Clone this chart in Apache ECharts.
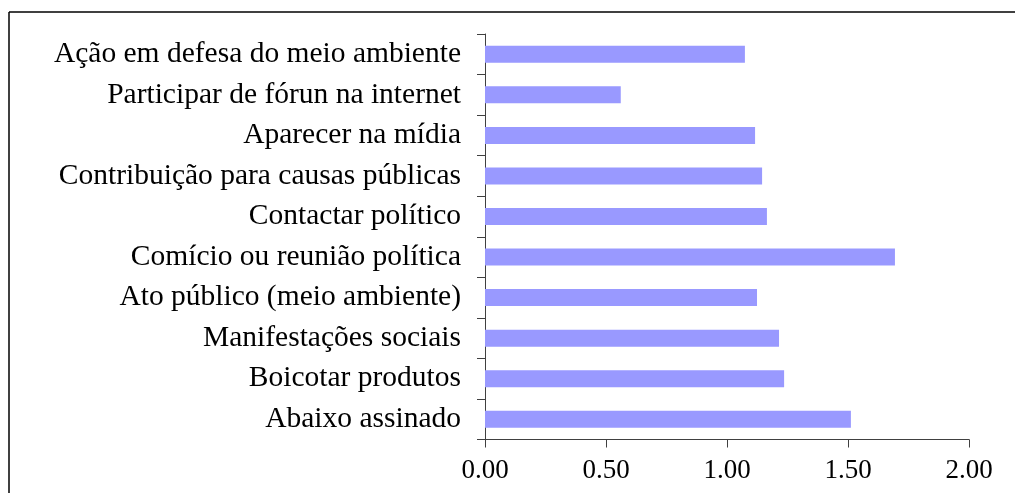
<!DOCTYPE html>
<html>
<head>
<meta charset="utf-8">
<script src="https://cdn.jsdelivr.net/npm/echarts@6/dist/echarts.min.js"></script>
<style>
html,body{margin:0;padding:0;background:#fff;}
#chart{width:1015px;height:493px;}
</style>
</head>
<body>
<div id="chart"></div>
<script>
const categories = [
  "Ação em defesa do meio ambiente",
  "Participar de fórun na internet",
  "Aparecer na mídia",
  "Contribuição para causas públicas",
  "Contactar político",
  "Comício ou reunião política",
  "Ato público (meio ambiente)",
  "Manifestações sociais",
  "Boicotar produtos",
  "Abaixo assinado"
];
const values = [1.074, 0.561, 1.116, 1.145, 1.165, 1.694, 1.124, 1.215, 1.236, 1.512];
const xTicks = [0, 0.5, 1, 1.5, 2];

const chart = echarts.init(document.getElementById('chart'), null, {renderer: 'canvas'});
const font = '"Liberation Serif", "Times New Roman", serif';
chart.setOption({
  animation: false,
  backgroundColor: '#fff',
  grid: {left: 485, right: 46, top: 34, bottom: 53.5, containLabel: false},
  xAxis: {
    type: 'value',
    min: xTicks[0],
    max: xTicks[xTicks.length - 1],
    interval: 0.5,
    splitLine: {show: false},
    axisLine: {show: true, lineStyle: {color: '#404040', width: 1}},
    axisTick: {show: true, length: 8, lineStyle: {color: '#404040'}},
    axisLabel: {
      margin: 18,
      color: '#000',
      fontFamily: font,
      fontSize: 27,
      formatter: v => v.toFixed(2)
    }
  },
  yAxis: {
    type: 'category',
    inverse: true,
    data: categories,
    axisLine: {show: true, lineStyle: {color: '#404040', width: 1}},
    axisTick: {show: true, length: 8, lineStyle: {color: '#404040'}},
    axisLabel: {
      margin: 24,
      color: '#000',
      fontFamily: font,
      fontSize: 29.5
    }
  },
  series: [{
    type: 'bar',
    data: values,
    barWidth: 17,
    itemStyle: {color: '#9999FF'}
  }],
  graphic: [
    {type: 'line', shape: {x1: 9, y1: 12, x2: 1015, y2: 12}, style: {stroke: '#000', lineWidth: 1.5}},
    {type: 'line', shape: {x1: 9, y1: 12, x2: 9, y2: 493}, style: {stroke: '#000', lineWidth: 1.5}}
  ]
});
</script>
</body>
</html>
